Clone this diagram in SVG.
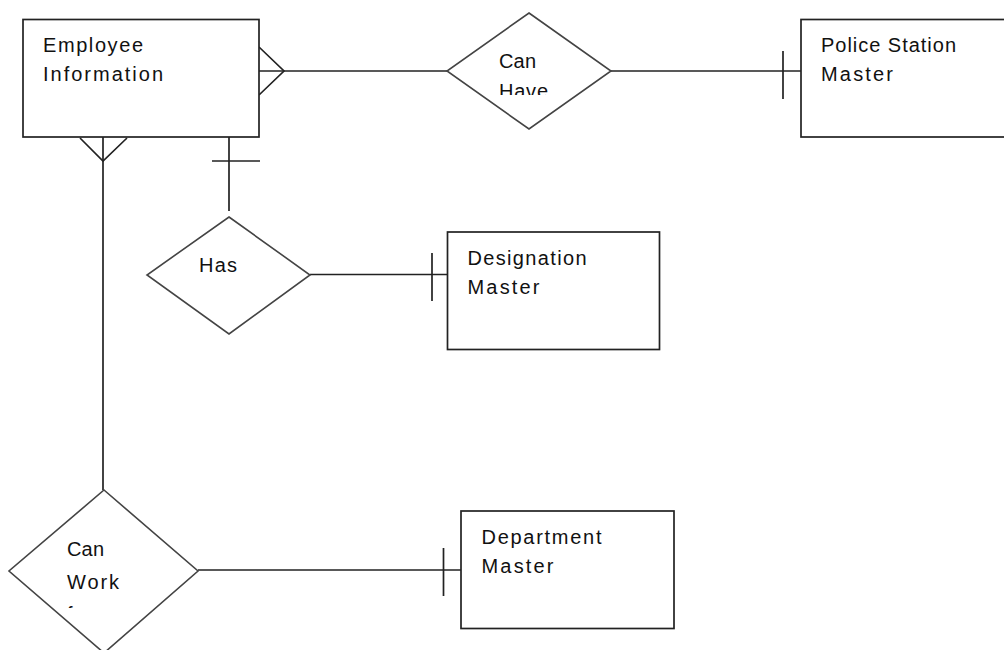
<svg xmlns="http://www.w3.org/2000/svg" width="1004" height="650" viewBox="0 0 1004 650">
<style>
.ent{fill:#fff;stroke:#222;stroke-width:1.7}
.rel{fill:#fff;stroke:#444;stroke-width:1.6}
.ln{fill:none;stroke:#222;stroke-width:1.7}
text{font-family:"Liberation Sans",Arial,sans-serif;font-size:20px;fill:#111}
</style>
<defs>
<clipPath id="clipHave"><rect x="440" y="0" width="180" height="95"/></clipPath>
<clipPath id="clipWork"><rect x="0" y="480" width="210" height="128"/></clipPath>
</defs>
<rect width="1004" height="650" fill="#fff"/>
<g id="connectors">
<line class="ln" x1="259" y1="71" x2="447" y2="71"/>
<polyline class="ln" points="259,47 284,71 259,95"/>
<line class="ln" x1="611" y1="71" x2="801" y2="71"/>
<line class="ln" x1="783" y1="51" x2="783" y2="99"/>
<line class="ln" x1="103" y1="137" x2="103" y2="490"/>
<polyline class="ln" points="80,138 103,161 127,138"/>
<line class="ln" x1="229" y1="137" x2="229" y2="211"/>
<line class="ln" x1="212" y1="161" x2="260" y2="161"/>
<line class="ln" x1="310" y1="274.5" x2="447" y2="274.5"/>
<line class="ln" x1="432" y1="253" x2="432" y2="301"/>
<line class="ln" x1="198" y1="570" x2="461" y2="570"/>
<line class="ln" x1="443.5" y1="548" x2="443.5" y2="596"/>
</g>
<g id="employee">
<rect class="ent" x="23" y="19.5" width="236" height="117.5"/>
<text x="43" y="52" textLength="100" lengthAdjust="spacing">Employee</text>
<text x="43" y="81" textLength="120" lengthAdjust="spacing">Information</text>
</g>
<g id="canhave">
<polygon class="rel" points="529,13 611,71 529,129 447,71"/>
<text x="499" y="67.5" textLength="37" lengthAdjust="spacing">Can</text>
<text x="499" y="97.5" textLength="49" lengthAdjust="spacing" clip-path="url(#clipHave)">Have</text>
</g>
<g id="police">
<rect class="ent" x="801" y="19.5" width="220" height="117.5"/>
<text x="821" y="52" textLength="135" lengthAdjust="spacing">Police Station</text>
<text x="821" y="81" textLength="72" lengthAdjust="spacing">Master</text>
</g>
<g id="has">
<polygon class="rel" points="229,217 310,275 229,334 147,275"/>
<text x="199" y="272" textLength="38" lengthAdjust="spacing">Has</text>
</g>
<g id="designation">
<rect class="ent" x="447.5" y="232" width="212" height="117.5"/>
<text x="467.5" y="264.5" textLength="119" lengthAdjust="spacing">Designation</text>
<text x="467.5" y="293.5" textLength="72" lengthAdjust="spacing">Master</text>
</g>
<g id="canwork">
<polygon class="rel" points="104,490 198,571 104,653 9,571"/>
<text x="67" y="556" textLength="37" lengthAdjust="spacing">Can</text>
<text x="67" y="588.5" textLength="52" lengthAdjust="spacing">Work</text>
<text x="67" y="621" clip-path="url(#clipWork)">for</text>
</g>
<g id="department">
<rect class="ent" x="461" y="511" width="213" height="117.5"/>
<text x="481.5" y="543.5" textLength="120" lengthAdjust="spacing">Department</text>
<text x="481.5" y="572.5" textLength="72" lengthAdjust="spacing">Master</text>
</g>
</svg>
